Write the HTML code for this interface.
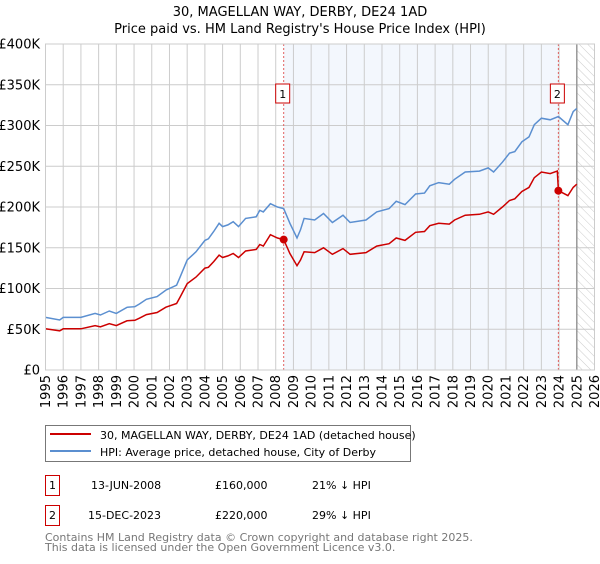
<!DOCTYPE html>
<html><head><meta charset="utf-8"><style>
body{margin:0;background:#fff;font-family:"DejaVu Sans","Liberation Sans",sans-serif;}
svg text{font-family:"DejaVu Sans","Liberation Sans",sans-serif;}
</style></head><body>
<svg id="chart" width="600" height="560" xmlns="http://www.w3.org/2000/svg">
<text x="300" y="16" text-anchor="middle" font-size="13">30, MAGELLAN WAY, DERBY, DE24 1AD</text>
<text x="300" y="33" text-anchor="middle" font-size="13">Price paid vs. HM Land Registry's House Price Index (HPI)</text>
<g id="plot"></g>
<g>
<rect x="45.5" y="425.5" width="365" height="36" fill="#fff" stroke="#777"/>
<line x1="50" y1="434" x2="91" y2="434" stroke="#cc0000" stroke-width="2"/>
<text x="100" y="439" font-size="11">30, MAGELLAN WAY, DERBY, DE24 1AD (detached house)</text>
<line x1="50" y1="451" x2="91" y2="451" stroke="#5b8fd0" stroke-width="2"/>
<text x="100" y="456" font-size="11">HPI: Average price, detached house, City of Derby</text>
</g>
<g font-size="11">
<rect x="45.5" y="475.5" width="14" height="20" fill="#fff" stroke="#cc0000"/>
<text x="52.5" y="489" text-anchor="middle">1</text>
<text x="91" y="489">13-JUN-2008</text>
<text x="215" y="489">£160,000</text>
<text x="312" y="489">21% ↓ HPI</text>
<rect x="45.5" y="505.5" width="14" height="20" fill="#fff" stroke="#cc0000"/>
<text x="52.5" y="519" text-anchor="middle">2</text>
<text x="88" y="519">15-DEC-2023</text>
<text x="215" y="519">£220,000</text>
<text x="312" y="519">29% ↓ HPI</text>
</g>
<text x="45" y="541" font-size="11" fill="#777">Contains HM Land Registry data © Crown copyright and database right 2025.</text>
<text x="45" y="551" font-size="11" fill="#777">This data is licensed under the Open Government Licence v3.0.</text>
</svg>
<script>
const hpiYears=[1995,1995.8,1996,1997,1997.8,1998.1,1998.6,1999,1999.6,2000.05,2000.3,2000.7,2001.3,2001.8,2002.4,2002.6,2003,2003.5,2004,2004.2,2004.5,2004.8,2005,2005.3,2005.6,2005.9,2006.3,2006.9,2007.1,2007.3,2007.7,2008.1,2008.45,2008.8,2009.2,2009.4,2009.6,2010.2,2010.7,2011.2,2011.8,2012.2,2013.1,2013.7,2014.4,2014.8,2015.3,2015.9,2016.4,2016.7,2017.2,2017.8,2018.1,2018.7,2019.5,2020,2020.3,2020.8,2021.2,2021.5,2021.9,2022.3,2022.6,2023,2023.5,2023.96,2024.5,2024.8,2025];
const hpiValues=[64.6,61.3,64.6,64.6,69.5,67.5,72.4,69.5,76.9,77.7,81,86.7,90,98,104,114,135,145,159,161,170,180,176,178,182,176,186,188,196,194,204,200,198,180,162,172,186,184,192,181,190,181,184,194,198,207,203,216,217,226,230,228,234,243,244,248,243,255,266,268,280,286,301,309,307,311,301,317,321];
const priceYears=[1995,1995.8,1996,1997,1997.8,1998.1,1998.6,1999,1999.6,2000.05,2000.3,2000.7,2001.3,2001.8,2002.4,2002.6,2003,2003.5,2004,2004.2,2004.5,2004.8,2005,2005.3,2005.6,2005.9,2006.3,2006.9,2007.1,2007.3,2007.7,2008.1,2008.45,2008.8,2009.2,2009.4,2009.6,2010.2,2010.7,2011.2,2011.8,2012.2,2013.1,2013.7,2014.4,2014.8,2015.3,2015.9,2016.4,2016.7,2017.2,2017.8,2018.1,2018.7,2019.5,2020,2020.3,2020.8,2021.2,2021.5,2021.9,2022.3,2022.6,2023,2023.5,2023.9,2023.96,2024.5,2024.8,2025];
const priceValues=[50.5,48,50.5,50.5,54.5,53,56.8,54.5,60.4,61,63.6,68,70.6,77,81.6,89.5,106,114,125,126,133,141,138,140,143,138,146,148,154,152,166,162,160,143,128,135,145,144,150,142,149,142,144,152,155,162,159,169,170,177,180,179,184,190,191,194,191,200,208,210,219,224,236,243,241,244,220,214,224,228];
const sales=[{n:"1",year:2008.45,value:160},{n:"2",year:2023.96,value:220}];
const yTicks=[0,50,100,150,200,250,300,350,400];
const yLabels=["£0","£50K","£100K","£150K","£200K","£250K","£300K","£350K","£400K"];
const xTicks=[1995,1996,1997,1998,1999,2000,2001,2002,2003,2004,2005,2006,2007,2008,2009,2010,2011,2012,2013,2014,2015,2016,2017,2018,2019,2020,2021,2022,2023,2024,2025,2026];

const X0=45.5,X1=594.5,Y0=370,Y1=44;
const xs=y=>X0+(y-1995)/(2026-1995)*(X1-X0);
const ys=v=>Y0-v/400*(Y0-Y1);
const NS="http://www.w3.org/2000/svg";
const g=document.getElementById('plot');
function mk(t,a){const e=document.createElementNS(NS,t);for(const k in a)e.setAttribute(k,a[k]);g.appendChild(e);return e;}

const bg=mk('rect',{x:X0,y:Y1,width:X1-X0,height:Y0-Y1,fill:'#fff'});


const shade=mk('rect',{x:xs(sales[0].year),y:Y1,width:xs(sales[1].year)-xs(sales[0].year),height:Y0-Y1,fill:'#eef3fc',opacity:0.7});


// hatch future
const defs=mk('defs',{});
defs.innerHTML='<pattern id="hatch" width="6" height="6" patternUnits="userSpaceOnUse" patternTransform="rotate(-45)"><line x1="0" y1="0" x2="0" y2="6" stroke="#ccc" stroke-width="1"/></pattern>';
const hatch=mk('rect',{x:xs(2025),y:Y1,width:X1-xs(2025),height:Y0-Y1,fill:'url(#hatch)'});


yTicks.forEach((v,i)=>{
  const l=mk('line',{x1:X0,x2:X1,y1:ys(v),y2:ys(v),stroke:'#ccc','stroke-width':1});
  
  
  const t=mk('text',{x:40,y:ys(v)+4.5,'text-anchor':'end','font-size':13});
  t.textContent=yLabels[i];
  
  
});
xTicks.forEach(yr=>{
  const l=mk('line',{x1:xs(yr),x2:xs(yr),y1:Y1,y2:Y0,stroke:'#ccc','stroke-width':1});
  
  
  const t=mk('text',{x:0,y:0,'text-anchor':'end','font-size':13,transform:`translate(${xs(yr)+4.5},375) rotate(-90)`});
  t.textContent=yr;
  
  
});
const nowLine=mk('line',{x1:xs(2025),x2:xs(2025),y1:Y1,y2:Y0,stroke:'#999','stroke-width':1.5});


sales.forEach(s=>{
  const l=mk('line',{x1:xs(s.year),x2:xs(s.year),y1:Y1,y2:Y0,stroke:'#e06060','stroke-width':1,'stroke-dasharray':'2,2'});
  
  
});
const pts=(ys_,vs)=>ys_.map((y,i)=>xs(y).toFixed(1)+','+ys(vs[i]).toFixed(1)).join(' ');
const hl=mk('polyline',{points:pts(hpiYears,hpiValues),fill:'none',stroke:'#5b8fd0','stroke-width':1.5});


const pl=mk('polyline',{points:pts(priceYears,priceValues),fill:'none',stroke:'#cc0000','stroke-width':1.5});


sales.forEach(s=>{
  const c=mk('circle',{cx:xs(s.year),cy:ys(s.value),r:4,fill:'#cc0000'});
  
  
  const b=mk('rect',{x:xs(s.year)-8,y:84,width:14,height:19,fill:'#fff',stroke:'#cc0000'});
  
  
  const t=mk('text',{x:xs(s.year)-1,y:98,'text-anchor':'middle','font-size':11});
  t.textContent=s.n;
  
  
});
const border=mk('rect',{x:X0,y:Y1,width:X1-X0,height:Y0-Y1,fill:'none',stroke:'#ccc'});


</script>
</body></html>
